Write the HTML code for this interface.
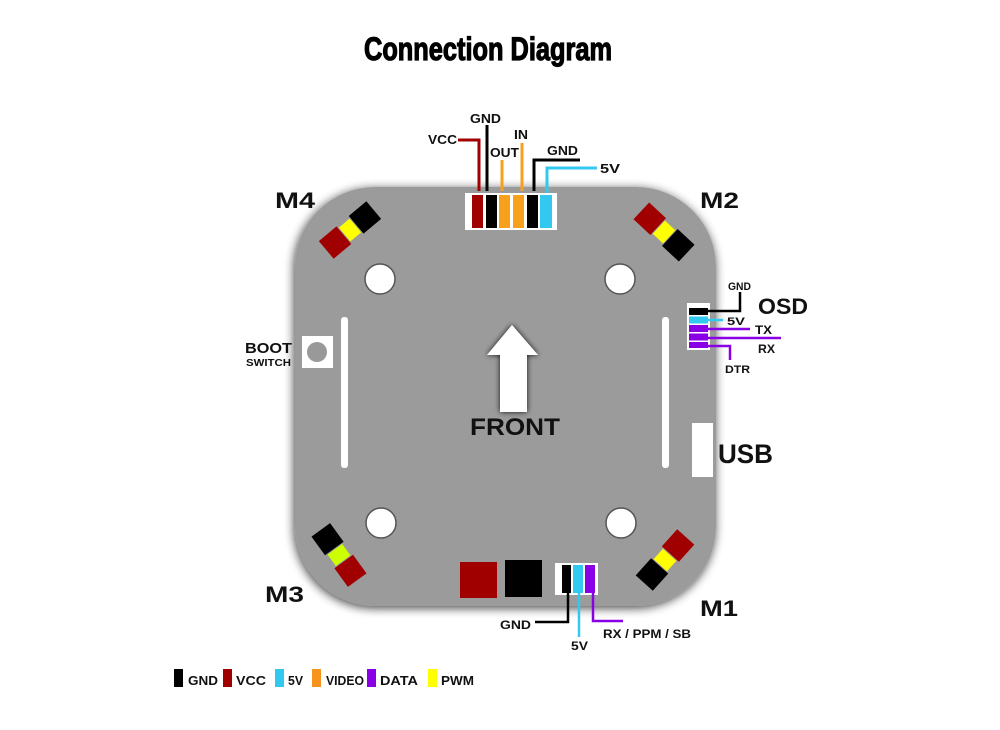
<!DOCTYPE html>
<html><head><meta charset="utf-8"><style>
html,body{margin:0;padding:0;background:#fff;}
svg{display:block;}
text{font-family:"Liberation Sans",Arial,sans-serif;font-weight:bold;fill:#111;}
</style></head><body>
<svg width="1000" height="730" viewBox="0 0 1000 730" xmlns="http://www.w3.org/2000/svg">
<defs>
<filter id="sh" x="-10%" y="-10%" width="120%" height="120%">
<feGaussianBlur in="SourceAlpha" stdDeviation="5"/>
<feOffset dx="-1" dy="2" result="b"/>
<feComponentTransfer><feFuncA type="linear" slope="0.75"/></feComponentTransfer>
<feMerge><feMergeNode/><feMergeNode in="SourceGraphic"/></feMerge>
</filter>
<filter id="ash" x="-50%" y="-50%" width="200%" height="200%">
<feGaussianBlur in="SourceAlpha" stdDeviation="3"/>
<feComponentTransfer><feFuncA type="linear" slope="0.9"/></feComponentTransfer>
<feMerge><feMergeNode/><feMergeNode in="SourceGraphic"/></feMerge>
</filter>
</defs>

<text x="364" y="60" font-size="32" textLength="248" lengthAdjust="spacingAndGlyphs" style="font-weight:900;fill:#000;stroke:#000;stroke-width:1.2">Connection Diagram</text>

<!-- board -->
<rect x="295" y="187" width="421" height="419" rx="80" ry="80" fill="#9b9b9b" filter="url(#sh)"/>

<!-- holes -->
<g fill="#fff" stroke="#555" stroke-width="1.5">
<circle cx="380" cy="279" r="15"/>
<circle cx="620" cy="279" r="15"/>
<circle cx="381" cy="523" r="15"/>
<circle cx="621" cy="523" r="15"/>
</g>

<!-- slots -->
<rect x="341" y="317" width="7" height="151" rx="3" fill="#fff"/>
<rect x="662" y="317" width="7" height="151" rx="3" fill="#fff"/>

<!-- boot switch -->
<rect x="302" y="336" width="31" height="32" fill="#fff"/>
<circle cx="317" cy="352" r="10" fill="#999"/>
<text x="245" y="353" font-size="15" textLength="47" lengthAdjust="spacingAndGlyphs">BOOT</text>
<text x="246" y="366" font-size="10" textLength="45" lengthAdjust="spacingAndGlyphs">SWITCH</text>

<!-- arrow -->
<polygon points="512,325 538,355 527,355 527,412 500,412 500,355 487,355" fill="#fff" filter="url(#ash)"/>
<text x="470" y="435" font-size="24" textLength="90" lengthAdjust="spacingAndGlyphs">FRONT</text>

<!-- USB -->
<rect x="692" y="423" width="21" height="54" fill="#fff"/>
<text x="718" y="463" font-size="27" textLength="55" lengthAdjust="spacingAndGlyphs">USB</text>

<!-- motor pads -->
<g transform="translate(350,230) rotate(-40)">
<rect x="-31" y="-11.5" width="23" height="23" fill="#a00000"/>
<rect x="-7" y="-9" width="14" height="18" fill="#ffff00"/>
<rect x="8" y="-11.5" width="23" height="23" fill="#000"/>
</g>
<g transform="translate(664,232) rotate(43)">
<rect x="-31" y="-11.5" width="23" height="23" fill="#a00000"/>
<rect x="-7" y="-9" width="14" height="18" fill="#ffff00"/>
<rect x="8" y="-11.5" width="23" height="23" fill="#000"/>
</g>
<g transform="translate(339,555) rotate(54)">
<rect x="-31" y="-11.5" width="23" height="23" fill="#000"/>
<rect x="-7" y="-9" width="14" height="18" fill="#ccff00"/>
<rect x="8" y="-11.5" width="23" height="23" fill="#a00000"/>
</g>
<g transform="translate(665,560) rotate(-48)">
<rect x="-31" y="-11.5" width="23" height="23" fill="#000"/>
<rect x="-7" y="-9" width="14" height="18" fill="#ffff00"/>
<rect x="8" y="-11.5" width="23" height="23" fill="#a00000"/>
</g>

<text x="275" y="208" font-size="22" textLength="40" lengthAdjust="spacingAndGlyphs">M4</text>
<text x="700" y="208" font-size="22" textLength="39" lengthAdjust="spacingAndGlyphs">M2</text>
<text x="265" y="602" font-size="22" textLength="39" lengthAdjust="spacingAndGlyphs">M3</text>
<text x="700" y="616" font-size="22" textLength="38" lengthAdjust="spacingAndGlyphs">M1</text>

<!-- top connector -->
<rect x="465" y="193" width="92" height="37" fill="#fff"/>
<rect x="472" y="195" width="11" height="33" fill="#a00000"/>
<rect x="486" y="195" width="11" height="33" fill="#000"/>
<rect x="499" y="195" width="11" height="33" fill="#f7a01b"/>
<rect x="513" y="195" width="11" height="33" fill="#f7a01b"/>
<rect x="527" y="195" width="11" height="33" fill="#000"/>
<rect x="540" y="195" width="12" height="33" fill="#33c8f0"/>
<g fill="none" stroke-width="3" stroke-linejoin="miter">
<polyline points="458,140 479,140 479,191" stroke="#a00000"/>
<polyline points="487,125 487,191" stroke="#000"/>
<polyline points="502,160 502,191" stroke="#f7a01b"/>
<polyline points="522,143 522,191" stroke="#f7a01b"/>
<polyline points="580,160 534,160 534,191" stroke="#000"/>
<polyline points="597,168 547,168 547,193" stroke="#33c8f0"/>
</g>
<text x="428" y="144" font-size="13" textLength="29" lengthAdjust="spacingAndGlyphs">VCC</text>
<text x="470" y="123" font-size="13" textLength="31" lengthAdjust="spacingAndGlyphs">GND</text>
<text x="490" y="157" font-size="13" textLength="29" lengthAdjust="spacingAndGlyphs">OUT</text>
<text x="514" y="139" font-size="13" textLength="14" lengthAdjust="spacingAndGlyphs">IN</text>
<text x="547" y="155" font-size="13" textLength="31" lengthAdjust="spacingAndGlyphs">GND</text>
<text x="600" y="173" font-size="13" textLength="20" lengthAdjust="spacingAndGlyphs">5V</text>

<!-- OSD connector -->
<rect x="687" y="303" width="23" height="47" fill="#fff"/>
<rect x="689" y="308" width="19" height="7" fill="#000"/>
<rect x="689" y="316.5" width="19" height="7" fill="#33c8f0"/>
<rect x="689" y="325" width="19" height="7" fill="#8a00e6"/>
<rect x="689" y="333.5" width="19" height="7" fill="#8a00e6"/>
<rect x="689" y="342" width="19" height="6" fill="#8a00e6"/>
<g fill="none" stroke-width="2.5">
<polyline points="706,311 740,311 740,292" stroke="#000"/>
<polyline points="706,320 723,320" stroke="#33c8f0"/>
<polyline points="706,329 750,329" stroke="#8a00e6"/>
<polyline points="706,338 781,338" stroke="#8a00e6"/>
<polyline points="706,346 730,346 730,360" stroke="#8a00e6"/>
</g>
<text x="728" y="290" font-size="11" textLength="23" lengthAdjust="spacingAndGlyphs">GND</text>
<text x="758" y="314" font-size="22" textLength="50" lengthAdjust="spacingAndGlyphs">OSD</text>
<text x="727" y="325" font-size="11" textLength="18" lengthAdjust="spacingAndGlyphs">5V</text>
<text x="755" y="334" font-size="12" textLength="17" lengthAdjust="spacingAndGlyphs">TX</text>
<text x="758" y="353" font-size="12" textLength="17" lengthAdjust="spacingAndGlyphs">RX</text>
<text x="725" y="373" font-size="11" textLength="25" lengthAdjust="spacingAndGlyphs">DTR</text>

<!-- bottom -->
<rect x="460" y="562" width="37" height="36" fill="#a00000"/>
<rect x="505" y="560" width="37" height="37" fill="#000"/>
<rect x="555" y="563" width="43" height="32" fill="#fff"/>
<rect x="562" y="565" width="9" height="28" fill="#000"/>
<rect x="573" y="565" width="10" height="28" fill="#33c8f0"/>
<rect x="585" y="565" width="10" height="28" fill="#8a00e6"/>
<g fill="none" stroke-width="2.5">
<polyline points="568,593 568,622 535,622" stroke="#000"/>
<polyline points="579,593 579,637" stroke="#33c8f0"/>
<polyline points="593,593 593,621 623,621" stroke="#8a00e6"/>
</g>
<text x="500" y="629" font-size="12" textLength="31" lengthAdjust="spacingAndGlyphs">GND</text>
<text x="571" y="650" font-size="12" textLength="17" lengthAdjust="spacingAndGlyphs">5V</text>
<text x="603" y="638" font-size="12" textLength="88" lengthAdjust="spacingAndGlyphs">RX / PPM / SB</text>

<!-- legend -->
<rect x="174" y="669" width="9" height="18" fill="#000"/>
<text x="188" y="685" font-size="13" textLength="30" lengthAdjust="spacingAndGlyphs">GND</text>
<rect x="223" y="669" width="9" height="18" fill="#a00000"/>
<text x="236" y="685" font-size="13" textLength="30" lengthAdjust="spacingAndGlyphs">VCC</text>
<rect x="275" y="669" width="9" height="18" fill="#33c8f0"/>
<text x="288" y="685" font-size="13" textLength="15" lengthAdjust="spacingAndGlyphs">5V</text>
<rect x="312" y="669" width="9" height="18" fill="#f7941d"/>
<text x="326" y="685" font-size="13" textLength="38" lengthAdjust="spacingAndGlyphs">VIDEO</text>
<rect x="367" y="669" width="9" height="18" fill="#8a00e6"/>
<text x="380" y="685" font-size="13" textLength="38" lengthAdjust="spacingAndGlyphs">DATA</text>
<rect x="428" y="669" width="9" height="18" fill="#ffff00"/>
<text x="441" y="685" font-size="13" textLength="33" lengthAdjust="spacingAndGlyphs">PWM</text>
</svg>
</body></html>
